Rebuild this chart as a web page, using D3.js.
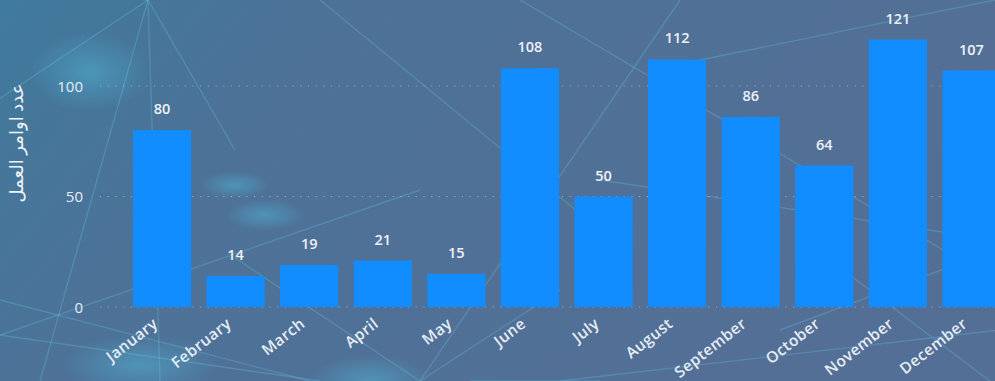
<!DOCTYPE html>
<html>
<head>
<meta charset="utf-8">
<script src="https://cdn.jsdelivr.net/npm/d3@7/dist/d3.min.js"></script>
<style>
  html, body { margin: 0; padding: 0; background: #4e6f95; overflow: hidden; }
  svg { display: block; }
  text { font-family: "Open Sans", "DejaVu Sans", sans-serif; }
</style>
</head>
<body>
<svg id="chart" width="995" height="381"></svg>
<script>
// Monthly work order counts
const months = ["January", "February", "March", "April", "May", "June",
                "July", "August", "September", "October", "November", "December"];
const orders = [80, 14, 19, 21, 15, 108, 50, 112, 86, 64, 121, 107];
const yTicks = [0, 50, 100];
const yTitle = "عدد اوامر العمل";

const W = 995, H = 381;
const svg = d3.select("#chart");

// ---- decorative backdrop ----
const defs = svg.append("defs");
const bg = defs.append("linearGradient").attr("id", "bg")
  .attr("x1", "0").attr("y1", "0").attr("x2", "1").attr("y2", "0.3");
bg.append("stop").attr("offset", "0").attr("stop-color", "#3f7a9c");
bg.append("stop").attr("offset", "0.3").attr("stop-color", "#4d7298");
bg.append("stop").attr("offset", "1").attr("stop-color", "#546f96");
svg.append("rect").attr("width", W).attr("height", H).attr("fill", "url(#bg)");

const glow = defs.append("radialGradient").attr("id", "glow");
glow.append("stop").attr("offset", "0").attr("stop-color", "#4fb0d0").attr("stop-opacity", 0.55);
glow.append("stop").attr("offset", "1").attr("stop-color", "#4fb0d0").attr("stop-opacity", 0);
const blobs = [[90, 72, 60, 40], [235, 185, 35, 14], [265, 215, 40, 16], [140, 365, 80, 30], [370, 380, 60, 25], [1060, 110, 40, 20]];
svg.append("g").selectAll("ellipse").data(blobs).join("ellipse")
  .attr("cx", d => d[0]).attr("cy", d => d[1]).attr("rx", d => d[2]).attr("ry", d => d[3])
  .attr("fill", "url(#glow)");

const web = [
  [148, 0, -10, 105], [148, 0, 40, 381], [148, 0, 160, 381], [148, 0, 235, 150],
  [148, 0, 80, -5], [0, 335, 420, 190], [0, 335, 320, 381], [0, 300, 310, 381],
  [420, 381, 560, 290], [420, 381, 680, 0], [235, 258, 420, 381], [470, 381, 600, 381],
  [320, 0, 600, 230], [520, 0, 960, 260], [700, 60, 995, 0], [560, 381, 1000, 330],
  [990, 381, 830, 260], [600, 180, 995, 240], [780, 330, 995, 250]
];
svg.append("g").selectAll("line").data(web).join("line")
  .attr("x1", d => d[0]).attr("y1", d => d[1]).attr("x2", d => d[2]).attr("y2", d => d[3])
  .attr("stroke", "#5fc4e0").attr("stroke-opacity", 0.3).attr("stroke-width", 1.4);

// ---- chart ----
const y = d3.scaleLinear().domain([0, 100]).range([307, 86]);
const x = d3.scaleBand().domain(months).range([117.5, 1016]).padding(0.21);

// dotted gridlines
svg.append("g").selectAll("line").data(yTicks).join("line")
  .attr("x1", 100).attr("x2", W)
  .attr("y1", d => y(d)).attr("y2", d => y(d))
  .attr("stroke", "#c9d6e6").attr("stroke-opacity", 0.55)
  .attr("stroke-width", 1.2).attr("stroke-dasharray", "1.2,6.5");

// y axis labels
const yAxis = d3.axisLeft(y).tickValues(yTicks).tickSize(0).tickPadding(0);
const gy = svg.append("g").attr("transform", "translate(83,0)").call(yAxis);
gy.select(".domain").remove();
gy.selectAll("text").attr("fill", "#e6edf5").attr("font-size", 15).attr("dy", "0.35em");

svg.append("text")
  .attr("transform", `translate(23,143) rotate(-90)`)
  .attr("text-anchor", "middle").attr("fill", "#eef3f8")
  .attr("font-size", 18).attr("font-family", "'DejaVu Sans', sans-serif")
  .attr("direction", "rtl")
  .text(yTitle);

// bars
svg.append("g").selectAll("rect").data(months).join("rect")
  .attr("x", d => x(d)).attr("width", x.bandwidth())
  .attr("y", (d, i) => y(orders[i]))
  .attr("height", (d, i) => y(0) - y(orders[i]))
  .attr("fill", "#118dff");

// value labels
svg.append("g").selectAll("text").data(months).join("text")
  .attr("x", d => x(d) + x.bandwidth() / 2)
  .attr("y", (d, i) => y(orders[i]) - 16)
  .attr("text-anchor", "middle").attr("fill", "#eef2f7")
  .attr("font-size", 14.5).attr("font-weight", 600)
  .text((d, i) => orders[i]);

// month labels
const xAxis = d3.axisBottom(x).tickSize(0).tickPadding(0);
const gx = svg.append("g").attr("transform", `translate(0,${y(0)})`).call(xAxis);
gx.select(".domain").remove();
gx.selectAll("text")
  .attr("fill", "#e6edf5").attr("font-size", 15.5).attr("font-weight", 600)
  .attr("letter-spacing", "0.4px")
  .attr("text-anchor", "end")
  .attr("transform", "translate(-10,10) rotate(-38)")
  .attr("dy", "0.71em").attr("dx", "0");
</script>
</body>
</html>
